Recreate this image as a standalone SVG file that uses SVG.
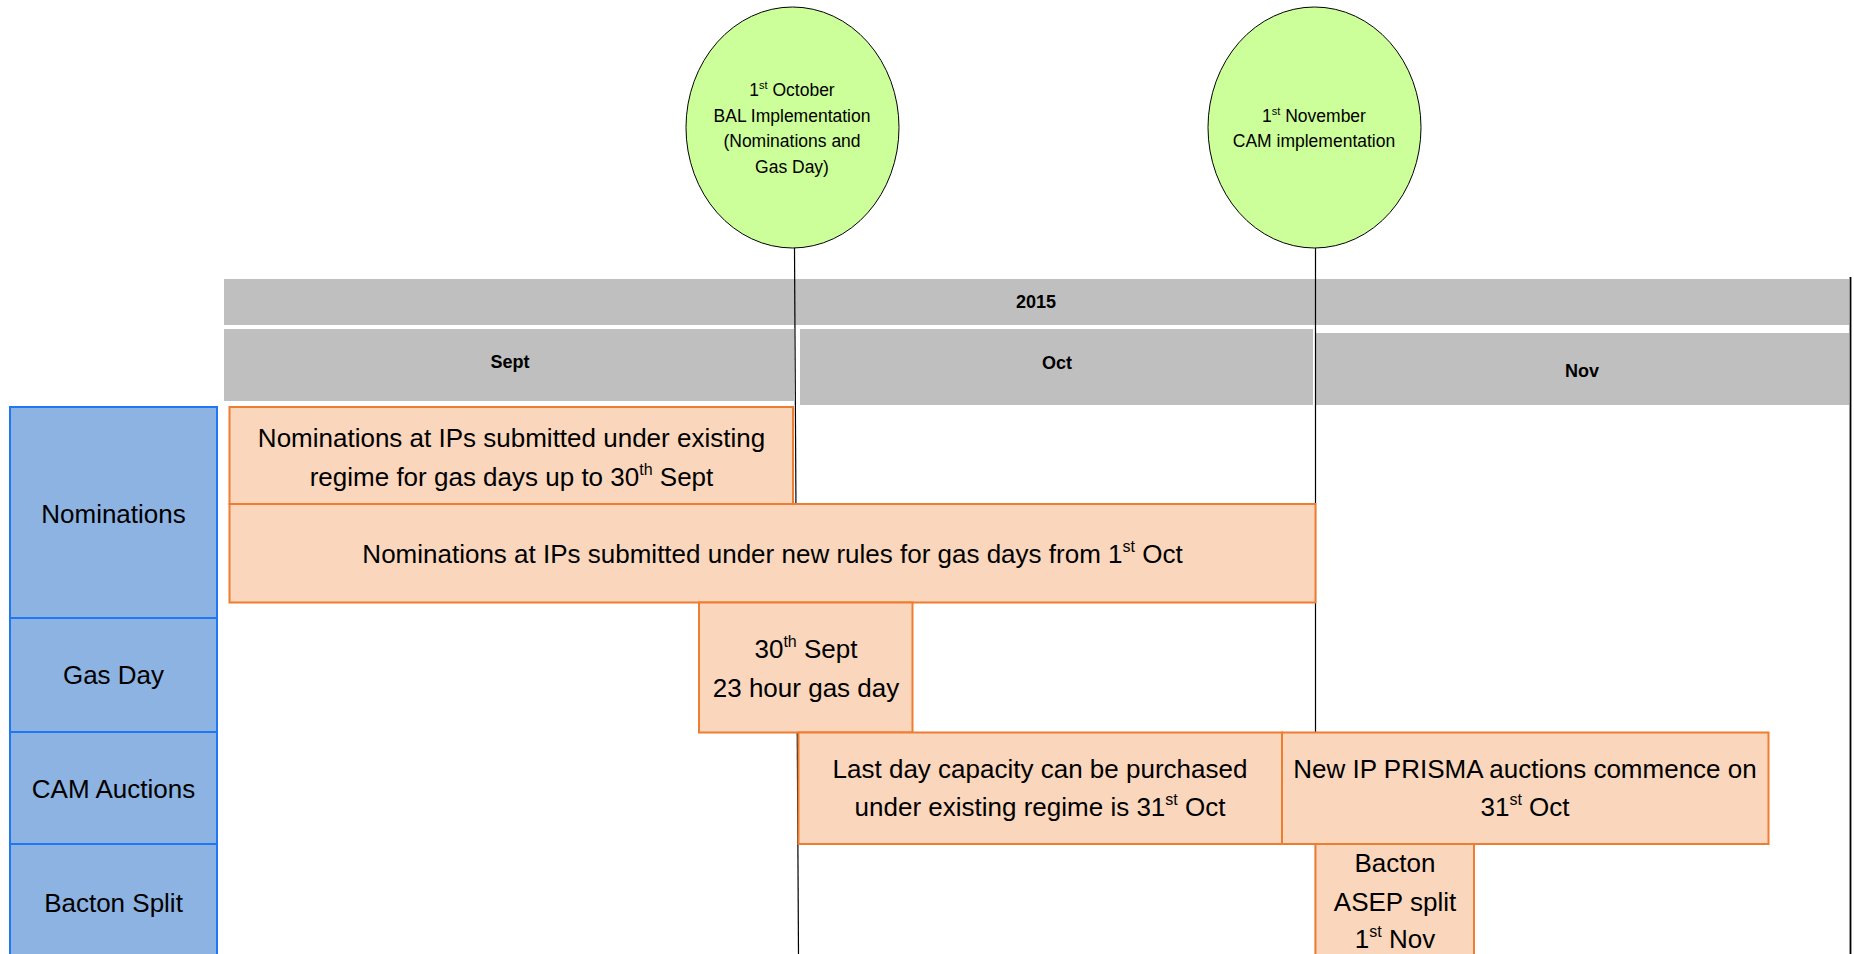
<svg xmlns="http://www.w3.org/2000/svg" width="1854" height="954" viewBox="0 0 1854 954">
<style>
  text { font-family: "Liberation Sans", Arial, sans-serif; fill: #000; text-anchor: middle; }
  .bar { fill: #BFBFBF; }
  .hdr { font-size: 18px; font-weight: bold; }
  .ms { fill: #CCFF99; stroke: #000; stroke-width: 1; }
  .mst { font-size: 17.5px; }
  .lab { fill: #8DB3E2; stroke: #1F78F2; stroke-width: 2; }
  .labt { font-size: 26px; }
  .ev { fill: #FAD7BC; stroke: #ED7D31; stroke-width: 2; }
  .evt { font-size: 26px; }
  .conn line { stroke: #000; stroke-width: 1.2; }
</style>
<rect width="1854" height="954" fill="#FFFFFF"/>

<g id="timeline-header">
  <rect class="bar" x="224" y="279" width="1625" height="46"/>
  <text class="hdr" x="1036" y="308">2015</text>
  <rect class="bar" x="224" y="329" width="570" height="72"/>
  <text class="hdr" x="510" y="368">Sept</text>
  <rect class="bar" x="800" y="329" width="513" height="76"/>
  <text class="hdr" x="1057" y="369">Oct</text>
  <rect class="bar" x="1316" y="333" width="533" height="72"/>
  <text class="hdr" x="1582" y="377">Nov</text>
</g>

<g id="connectors" class="conn">
  <line x1="794.5" y1="248" x2="798.5" y2="954"/>
  <line x1="1315.5" y1="248" x2="1315.5" y2="954"/>
  <line x1="1850.5" y1="277" x2="1850.5" y2="954" style="stroke-width:1.8"/>
</g>

<g id="milestone-oct">
  <ellipse class="ms" cx="792.5" cy="127.5" rx="106.5" ry="120.5"/>
  <text class="mst" x="792" y="96">1<tspan font-size="11" dy="-7">st</tspan><tspan dy="7"> October</tspan></text>
  <text class="mst" x="792" y="122">BAL Implementation</text>
  <text class="mst" x="792" y="147">(Nominations and</text>
  <text class="mst" x="792" y="173">Gas Day)</text>
</g>

<g id="milestone-nov">
  <ellipse class="ms" cx="1314.5" cy="127.5" rx="106.5" ry="120.5"/>
  <text class="mst" x="1314" y="122">1<tspan font-size="11" dy="-7">st</tspan><tspan dy="7"> November</tspan></text>
  <text class="mst" x="1314" y="147">CAM implementation</text>
</g>

<g id="row-nominations">
  <rect class="lab" x="10" y="407" width="207" height="211"/>
  <text class="labt" x="113.5" y="523">Nominations</text>
</g>
<g id="row-gasday">
  <rect class="lab" x="10" y="618" width="207" height="114"/>
  <text class="labt" x="113.5" y="684">Gas Day</text>
</g>
<g id="row-cam">
  <rect class="lab" x="10" y="732" width="207" height="112"/>
  <text class="labt" x="113.5" y="798">CAM Auctions</text>
</g>
<g id="row-bacton">
  <rect class="lab" x="10" y="844" width="207" height="120"/>
  <text class="labt" x="113.5" y="912">Bacton Split</text>
</g>

<g id="nom-existing">
  <rect class="ev" x="229.5" y="407" width="563.5" height="97"/>
  <text class="evt" x="511.5" y="447">Nominations at IPs submitted under existing</text>
  <text class="evt" x="511.5" y="486">regime for gas days up to 30<tspan font-size="16" dy="-11">th</tspan><tspan dy="11"> Sept</tspan></text>
</g>

<g id="nom-new">
  <rect class="ev" x="229.5" y="504" width="1086" height="98.5"/>
  <text class="evt" x="772.5" y="563">Nominations at IPs submitted under new rules for gas days from 1<tspan font-size="16" dy="-11">st</tspan><tspan dy="11"> Oct</tspan></text>
</g>

<g id="gasday-23h">
  <rect class="ev" x="699" y="602.5" width="213.5" height="130"/>
  <text class="evt" x="806" y="658">30<tspan font-size="16" dy="-11">th</tspan><tspan dy="11"> Sept</tspan></text>
  <text class="evt" x="806" y="697">23 hour gas day</text>
</g>

<g id="cam-existing">
  <rect class="ev" x="798.5" y="732.5" width="483.5" height="111.5"/>
  <text class="evt" x="1040" y="778">Last day capacity can be purchased</text>
  <text class="evt" x="1040" y="816">under existing regime is 31<tspan font-size="16" dy="-11">st</tspan><tspan dy="11"> Oct</tspan></text>
</g>

<g id="cam-prisma">
  <rect class="ev" x="1282" y="732.5" width="486.5" height="111.5"/>
  <text class="evt" x="1525" y="778">New IP PRISMA auctions commence on</text>
  <text class="evt" x="1525" y="816">31<tspan font-size="16" dy="-11">st</tspan><tspan dy="11"> Oct</tspan></text>
</g>

<g id="bacton-asep">
  <rect class="ev" x="1315.5" y="844" width="158.5" height="120"/>
  <text class="evt" x="1395" y="872">Bacton</text>
  <text class="evt" x="1395" y="911">ASEP split</text>
  <text class="evt" x="1395" y="948">1<tspan font-size="16" dy="-11">st</tspan><tspan dy="11"> Nov</tspan></text>
</g>
</svg>
